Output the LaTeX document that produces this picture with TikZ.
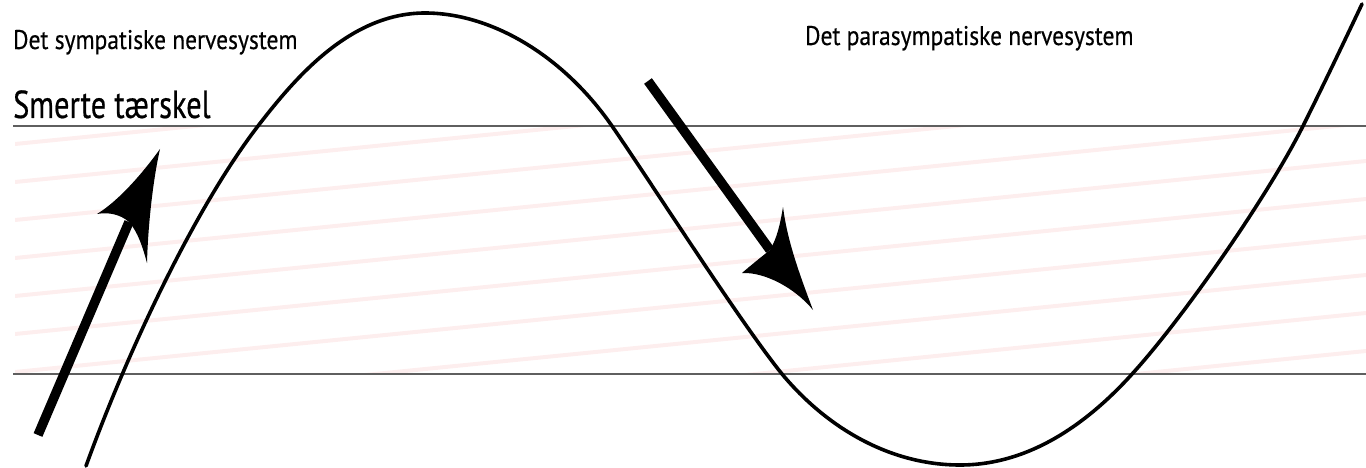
\documentclass[tikz,border=0pt]{standalone}
\usepackage{fontspec}
\newfontfamily\labelfont{PT Sans}[FakeStretch=0.87, FakeBold=0.4]
\newfontfamily\titlefont{PT Sans}[FakeStretch=0.78, FakeBold=0.5]
\usetikzlibrary{calc}
\definecolor{cpink}{HTML}{FDEEEE}
\definecolor{cgrey}{HTML}{5F5F5F}
\tikzset{
  every picture/.style={x=1pt, y=-1pt},
  caption/.style={font=\labelfont\fontsize{27}{30}\selectfont, anchor=base west, inner sep=0pt},
  bigcaption/.style={font=\titlefont\fontsize{39}{44}\selectfont, anchor=base west, inner sep=0pt},
  stripe/.style={draw=cpink, line width=4pt},
  limit/.style={draw=cgrey, line width=1.6pt},
  wave/.style={draw=black, line width=3.6pt, line cap=round},
  shaft/.style={draw=black, line width=9.5pt},
  head/.style={fill=black},
}

\begin{document}
\begin{tikzpicture}
  \useasboundingbox (0,0) rectangle (1366,468);
  % ---------- pain band ----------
  \coordinate (bandTL) at (13,126);
  \coordinate (bandTR) at (1366,126);
  \coordinate (bandBL) at (13,374);
  \coordinate (bandBR) at (1366,374);
  \begin{scope}
    \clip (15,127) rectangle (1366,373);
    \foreach \k in {0,...,10}
      \draw[stripe] (15, 144+38*\k) -- (1366, 9+38*\k);
  \end{scope}
  \draw[limit] (bandTL) -- (bandTR);
  \draw[limit] (bandBL) -- (bandBR);
  % ---------- labels ----------
  \node[caption] (symp) at (13,49) {Det sympatiske nervesystem};
  \node[caption] (parasymp) at (805,45) {Det parasympatiske nervesystem};
  \node[bigcaption] (threshold) at (13,118) {Smerte tærskel};
  % ---------- wave ----------
  \draw[wave] (86,466) .. controls (131,342) and (198,204) .. (258,126)
    .. controls (295,78) and (350,13) .. (425,13)
    .. controls (490,13) and (562,54) .. (612,126)
    .. controls (650,181) and (740,322) .. (782,374)
    .. controls (827,428) and (890,465) .. (960,465)
    .. controls (1030,465) and (1088,423) .. (1133,373)
    .. controls (1183,318) and (1268,196) .. (1303,126)
    .. controls (1323,86) and (1344,42) .. (1362,4);
  % ---------- rising arrow ----------
  \coordinate (upTail) at (38,435);
  \coordinate (upNeck) at (129,222);
  \coordinate (upTip) at (160,149);
  \draw[shaft] (upTail) -- (upNeck);
  \fill[head] (upTip) .. controls (145,170) and (120,200) .. (97,214)
    .. controls (108,212) and (120,214) .. (upNeck)
    .. controls (138,232) and (143,248) .. (147,263)
    .. controls (148,225) and (153,180) .. (upTip) -- cycle;
  % ---------- falling arrow ----------
  \coordinate (downTail) at (648,81);
  \coordinate (downNeck) at (770,250);
  \coordinate (downTip) at (813,310);
  \draw[shaft] (downTail) -- (downNeck);
  \fill[head] (downTip) .. controls (797,268) and (787,238) .. (783,207)
    .. controls (780,225) and (777,238) .. (downNeck)
    .. controls (760,258) and (750,266) .. (742,273)
    .. controls (765,272) and (795,288) .. (downTip) -- cycle;
\end{tikzpicture}
\end{document}
